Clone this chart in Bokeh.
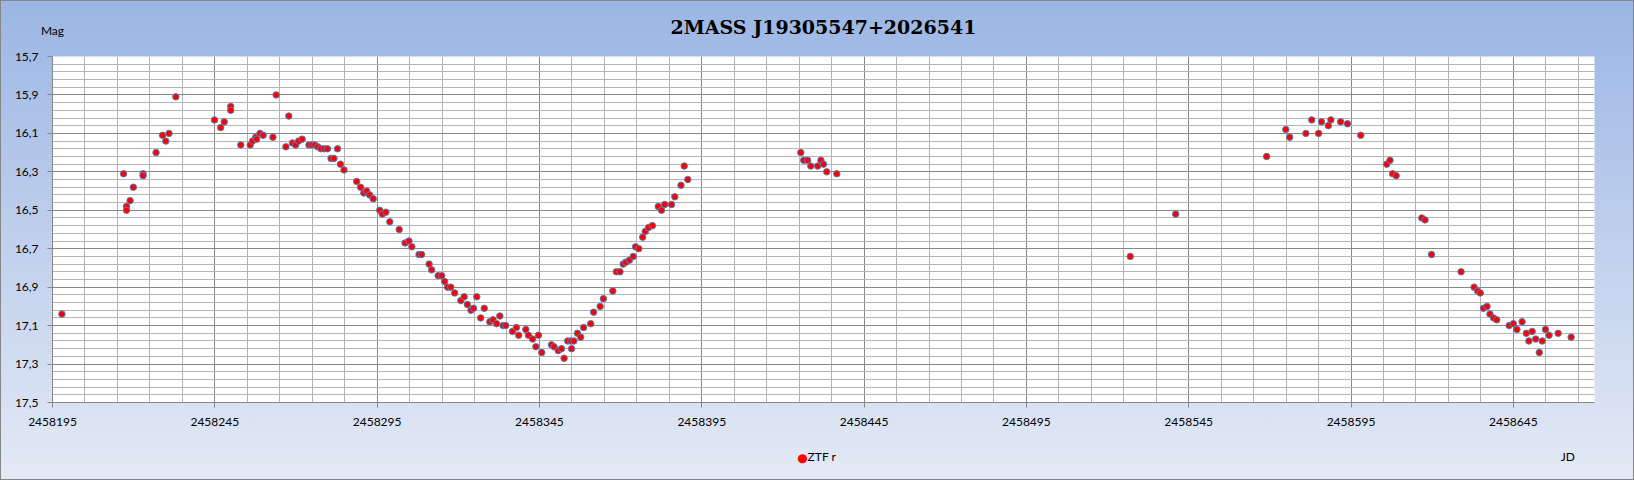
from bokeh.plotting import figure
from bokeh.models import Range1d, FixedTicker, CustomJSTickFormatter, LinearAxis
from bokeh.embed import file_html
from bokeh.resources import INLINE

title_text = "2MASS J19305547+2026541"
series_name = "ZTF r"
y_label = "Mag"
x_label = "JD"

jd = [
    2458197.9, 2458216.9, 2458217.8, 2458217.8, 2458218.9, 2458219.9, 2458222.9, 2458222.9,
    2458226.9, 2458228.9, 2458229.9, 2458230.9, 2458233.0, 2458244.9, 2458246.8, 2458247.9,
    2458249.9, 2458249.9, 2458253.0, 2458255.9, 2458256.6, 2458257.6, 2458257.9, 2458258.9,
    2458259.9, 2458262.9, 2458263.9, 2458266.9, 2458267.8, 2458268.9, 2458269.9, 2458270.8,
    2458271.9, 2458274.0, 2458274.9, 2458275.8, 2458276.7, 2458277.7, 2458278.7, 2458279.7,
    2458280.8, 2458281.7, 2458282.8, 2458283.7, 2458284.8, 2458288.7, 2458289.9, 2458290.9,
    2458291.8, 2458292.7, 2458293.8, 2458295.8, 2458296.6, 2458297.7, 2458298.9, 2458301.8,
    2458303.6, 2458304.8, 2458305.7, 2458307.9, 2458308.7, 2458311.0, 2458311.8, 2458313.8,
    2458314.9, 2458315.8, 2458316.7, 2458317.7, 2458318.9, 2458320.8, 2458321.8, 2458322.8,
    2458323.9, 2458324.7, 2458325.7, 2458326.9, 2458328.0, 2458329.7, 2458330.7, 2458331.8,
    2458332.8, 2458333.8, 2458334.6, 2458336.7, 2458337.9, 2458338.6, 2458340.8, 2458341.6,
    2458342.9, 2458343.9, 2458344.7, 2458345.7, 2458348.7, 2458349.5, 2458350.8, 2458351.8,
    2458352.6, 2458353.7, 2458354.7, 2458355.6, 2458354.9, 2458356.7, 2458357.7, 2458358.6,
    2458360.8, 2458361.7, 2458363.7, 2458364.7, 2458367.6, 2458368.7, 2458369.8, 2458370.8,
    2458371.6, 2458372.7, 2458373.9, 2458374.6, 2458375.6, 2458376.8, 2458377.6, 2458378.6,
    2458379.8, 2458381.6, 2458382.6, 2458383.6, 2458385.7, 2458386.7, 2458388.6, 2458389.6,
    2458390.7,
    2458425.5, 2458426.4, 2458427.6, 2458428.6, 2458430.7, 2458431.7, 2458432.5, 2458433.5,
    2458436.6,
    2458527.0, 2458541.0,
    2458569.0, 2458574.9, 2458576.1, 2458581.1, 2458582.9, 2458585.0, 2458585.9, 2458588.0,
    2458588.8, 2458591.8, 2458593.9, 2458598.0, 2458606.0, 2458607.0, 2458607.8, 2458608.9,
    2458616.8, 2458617.8, 2458619.8, 2458628.9, 2458632.9, 2458634.0, 2458634.8, 2458635.8,
    2458636.9, 2458637.8, 2458638.9, 2458639.9, 2458643.7, 2458645.0, 2458646.1, 2458647.7,
    2458649.0, 2458649.8, 2458650.8, 2458651.9, 2458653.0, 2458653.9, 2458654.9, 2458656.0,
    2458658.8, 2458662.8,
]
mag = [
    17.04, 16.31, 16.48, 16.50, 16.45, 16.38, 16.31, 16.32,
    16.20, 16.11, 16.14, 16.10, 15.91, 16.03, 16.07, 16.04,
    15.96, 15.98, 16.16, 16.16, 16.14, 16.12, 16.13, 16.10,
    16.11, 16.12, 15.90, 16.17, 16.01, 16.15, 16.16, 16.14,
    16.13, 16.16, 16.16, 16.16, 16.17, 16.18, 16.18, 16.18,
    16.23, 16.23, 16.18, 16.26, 16.29, 16.35, 16.38, 16.41,
    16.40, 16.42, 16.44, 16.50, 16.52, 16.51, 16.56, 16.60,
    16.67, 16.66, 16.69, 16.73, 16.73, 16.78, 16.81, 16.84,
    16.84, 16.87, 16.90, 16.90, 16.93, 16.97, 16.95, 16.99,
    17.02, 17.01, 16.95, 17.06, 17.01, 17.08, 17.07, 17.09,
    17.05, 17.10, 17.10, 17.13, 17.11, 17.15, 17.12, 17.15,
    17.17, 17.21, 17.15, 17.24, 17.20, 17.21, 17.23, 17.22,
    17.27, 17.18, 17.18, 17.18, 17.22, 17.14, 17.16, 17.11,
    17.09, 17.03, 17.00, 16.96, 16.92, 16.82, 16.82, 16.78,
    16.77, 16.76, 16.74, 16.69, 16.70, 16.64, 16.61, 16.59,
    16.58, 16.48, 16.50, 16.47, 16.47, 16.43, 16.37, 16.27,
    16.34,
    16.20, 16.24, 16.24, 16.27, 16.27, 16.24, 16.26, 16.30,
    16.31,
    16.74, 16.52,
    16.22, 16.08, 16.12, 16.10, 16.03, 16.10, 16.04, 16.06,
    16.03, 16.04, 16.05, 16.11, 16.26, 16.24, 16.31, 16.32,
    16.54, 16.55, 16.73, 16.82, 16.90, 16.92, 16.93, 17.01,
    17.00, 17.04, 17.06, 17.07, 17.10, 17.09, 17.12, 17.08,
    17.14, 17.18, 17.13, 17.17, 17.24, 17.18, 17.12, 17.15,
    17.14, 17.16,
]

x_ticks = [2458195, 2458245, 2458295, 2458345, 2458395, 2458445, 2458495, 2458545, 2458595, 2458645]
x_tick_labels = ["2458195", "2458245", "2458295", "2458345", "2458395",
                 "2458445", "2458495", "2458545", "2458595", "2458645"]
y_ticks = [15.7, 15.9, 16.1, 16.3, 16.5, 16.7, 16.9, 17.1, 17.3, 17.5]
y_tick_labels = ["15,7", "15,9", "16,1", "16,3", "16,5", "16,7", "16,9", "17,1", "17,3", "17,5"]
x_min, x_max = 2458195, 2458670
y_top, y_bottom = 15.7, 17.5
x_minor = [x_min + 10 * i for i in range(48) if i % 5 != 0]
y_minor = [round(y_top + 0.04 * i, 2) for i in range(46) if i % 5 != 0]

# where the captions sit along the JD axis (text placement, not data)
mag_caption_at = 2458195.0
title_span = (2458195.0, 2458666.0)
caption_pos = [2458432.0, 2458661.8]
caption_text = [series_name, x_label]
legend_dot_at = [2458426.0]

p = figure(width=1634, height=480, output_backend="svg", toolbar_location=None,
           x_range=Range1d(x_min, x_max), y_range=Range1d(y_bottom, y_top),
           title_location=None,
           min_border_left=52, min_border_right=40, min_border_top=56, min_border_bottom=78)

p.border_fill_alpha = 0
p.background_fill_color = "#FFFFFF"
p.outline_line_color = None
p.styles = {
    "background": "linear-gradient(180deg, #9BB6E4 0%, #C3D2EE 55%, #E4EAF5 100%)",
    "outline": "1px solid #868686",
    "outline-offset": "-1px",
}

xt = FixedTicker(ticks=x_ticks, minor_ticks=x_minor)
yt = FixedTicker(ticks=y_ticks, minor_ticks=y_minor)
p.xaxis.ticker = xt
p.yaxis.ticker = yt
p.xgrid.ticker = xt
p.ygrid.ticker = yt

fmt_code = """
let b = 0;
for (let i = 0; i < tvals.length; i++) {
  if (Math.abs(tvals[i] - tick) < Math.abs(tvals[b] - tick)) b = i;
}
return tlabels[b];
"""
p.xaxis.formatter = CustomJSTickFormatter(args=dict(tvals=x_ticks, tlabels=x_tick_labels), code=fmt_code)
p.yaxis.formatter = CustomJSTickFormatter(args=dict(tvals=y_ticks, tlabels=y_tick_labels), code=fmt_code)

for g in (p.xgrid, p.ygrid):
    g.grid_line_color = "#878787"
    g.grid_line_width = 1
    g.minor_grid_line_color = "#B5B5B5"
    g.minor_grid_line_width = 1

for ax in (p.xaxis, p.yaxis):
    ax.axis_line_color = "#868686"
    ax.major_tick_line_color = "#868686"
    ax.major_tick_out = 5
    ax.major_tick_in = 0
    ax.minor_tick_line_color = None
    ax.major_label_text_font = "Lato"
    ax.major_label_text_font_size = "12px"
    ax.major_label_text_color = "#000000"
p.yaxis.major_label_standoff = 9
p.xaxis.major_label_standoff = 10

r = p.scatter(jd, mag, size=6.5, fill_color="#FF0000", line_color="#4F81BD", line_width=1)


def caption_axis(ticks, labels, standoff, font, size, color, bounds="auto"):
    ax = LinearAxis(ticker=FixedTicker(ticks=ticks, minor_ticks=[]),
                    formatter=CustomJSTickFormatter(args=dict(tvals=ticks, tlabels=labels), code=fmt_code),
                    bounds=bounds)
    ax.axis_line_color = None
    ax.major_tick_line_color = None
    ax.minor_tick_line_color = None
    ax.major_tick_out = 0
    ax.major_tick_in = 0
    ax.minor_tick_out = 0
    ax.minor_tick_in = 0
    ax.major_label_standoff = standoff
    ax.major_label_text_font = font
    ax.major_label_text_font_size = size
    ax.major_label_text_color = color
    return ax


# top: "Mag" caption as a tick label, chart title as the axis label
top_axis = caption_axis([mag_caption_at], [y_label], 19, "Lato", "12px", "#000000", bounds=title_span)
top_axis.axis_label = title_text
top_axis.axis_label_standoff = -18
top_axis.axis_label_text_font = "DejaVu Serif"
top_axis.axis_label_text_font_style = "bold"
top_axis.axis_label_text_font_size = "19px"
top_axis.axis_label_text_color = "#000000"
p.add_layout(top_axis, "above")

# bottom: legend label and "JD" caption, then the legend's marker
cap_axis = caption_axis(caption_pos, caption_text, 20, "Lato", "12px", "#000000")
p.add_layout(cap_axis, "below")
dot_axis = caption_axis(legend_dot_at, ["\u25CF"], -16, "DejaVu Sans", "12px", "#FF0000")
p.add_layout(dot_axis, "below")

open("out.html", "w").write(file_html(p, INLINE))
